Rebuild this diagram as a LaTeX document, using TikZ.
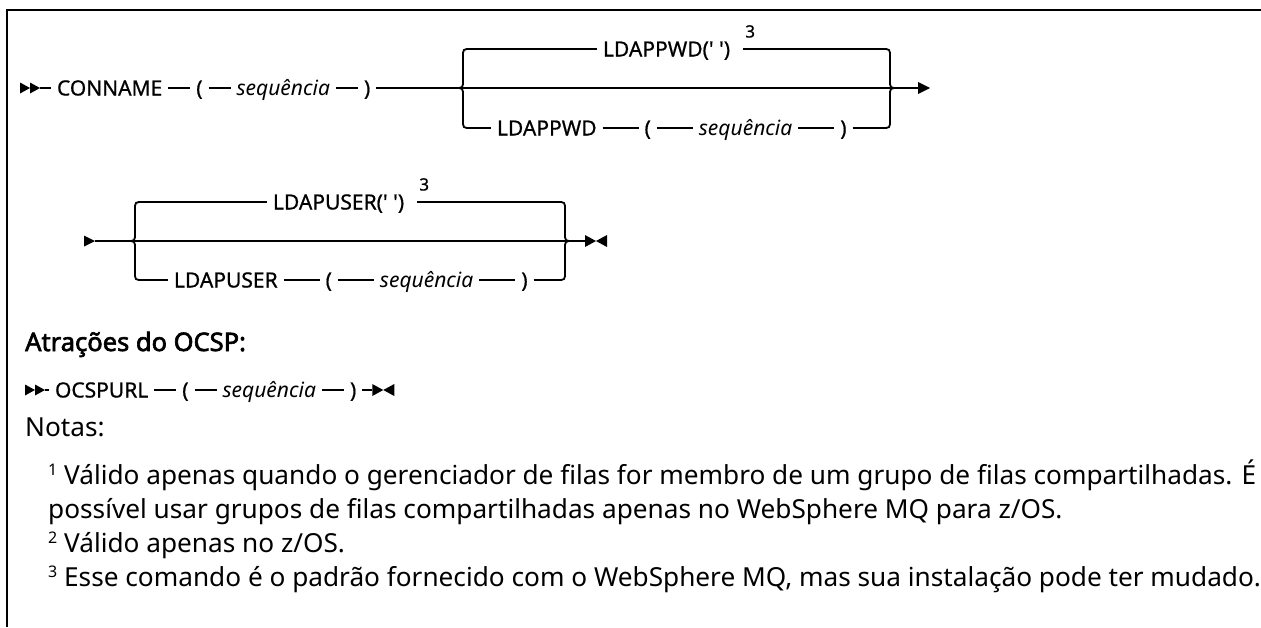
\documentclass[tikz,border=0pt]{standalone}
\usepackage{fontspec}
\setmainfont{Noto Sans}
\newfontfamily\headfont{Noto Sans}[FakeBold=2.5]
\newfontfamily\diagfont{Noto Sans}[FakeBold=0.7]
\usetikzlibrary{positioning}
\newcommand\sqt{\XeTeXglyph\XeTeXcharglyph"27\relax}
\newcommand\nsup[1]{\raisebox{8.5pt}{\fontsize{16}{16}\selectfont #1}}
\tikzset{
  track/.style={line width=1.8pt},
  tok/.style={anchor=west, inner xsep=6pt, inner ysep=0pt, outer sep=0pt,
    text height=15pt, text depth=0pt, font=\diagfont\fontsize{21}{25}\selectfont},
  vartok/.style={tok, font=\fontsize{21}{25}\selectfont\itshape},
  supnum/.style={anchor=base west, inner sep=0pt, font=\diagfont\fontsize{17}{18}\selectfont},
  heading/.style={anchor=base west, inner sep=0pt, font=\headfont\fontsize{25.5}{30}\selectfont},
  plaintext/.style={anchor=base west, inner sep=0pt, font=\fontsize{26.2}{30}\selectfont},
  frameline/.style={line width=2.5pt},
}
\begin{document}
\begin{tikzpicture}[x=1pt,y=-1pt]
\useasboundingbox (0,0) rectangle (1261,627);
\fill[white] (0,0) rectangle (1261,627);
\draw[frameline] (7,627) -- (7,10) -- (1261,10);

% ---------- line 1 ----------
\fill (20,82.5) -- (30,88) -- (20,93.5) -- cycle;
\fill (30,82.5) -- (40,88) -- (30,93.5) -- cycle;
\coordinate (a1) at (40,88);
\coordinate (e1) at (918,88);
\node[tok] (conname) at (51,88) {CONNAME};
\node[tok, right=22pt of conname] (lpa) {(};
\node[vartok, right=22pt of lpa] (seqa) {sequência};
\node[tok, right=22pt of seqa] (rpa) {)};
\draw[track] (a1) -- (conname.west) (conname.east) -- (lpa.west)
  (lpa.east) -- (seqa.west) (seqa.east) -- (rpa.west) (rpa.east) -- (e1);
\fill (918,82) -- (930,88) -- (918,94) -- cycle;

\coordinate (bu1) at (471,49);
\coordinate (bl1) at (471,128);
\coordinate (cu1) at (882,49);
\coordinate (cl1) at (882,128);
\draw[track] (bu1) .. controls (463,49) .. (463,57) -- (463,80)
  .. controls (463,88) .. (455,88) .. controls (463,88) .. (463,96)
  -- (463,120) .. controls (463,128) .. (bl1);
\draw[track] (cu1) .. controls (890,49) .. (890,57) -- (890,80)
  .. controls (890,88) .. (898,88) .. controls (890,88) .. (890,96)
  -- (890,120) .. controls (890,128) .. (cl1);

\node[tok] (pwdd) at (597,49) {LDAPPWD(\sqt\ \sqt)};
\node[supnum] (ta) at ([shift={(9,-4)}]pwdd.north east) {3};
\draw[track] (bu1) -- (pwdd.west) ([xshift=-2pt]ta.west |- pwdd.east) -- (cu1);

\node[tok] (pwdk) at (491,128) {LDAPPWD};
\node[tok, right=36pt of pwdk] (lpb) {(};
\node[vartok, right=36pt of lpb] (seqb) {sequência};
\node[tok, right=36pt of seqb] (rpb) {)};
\draw[track] (bl1) -- (pwdk.west) (pwdk.east) -- (lpb.west)
  (lpb.east) -- (seqb.west) (seqb.east) -- (rpb.west) (rpb.east) -- (cl1);

% ---------- line 2 ----------
\fill (84,235.5) -- (95,241) -- (84,246.5) -- cycle;
\coordinate (b1) at (95,241);
\coordinate (e2) at (585,241);
\draw[track] (b1) -- (e2);
\fill (585,235) -- (596,241) -- (585,247) -- cycle;
\fill (607,235) -- (596,241) -- (607,247) -- cycle;

\coordinate (bu2) at (143,202);
\coordinate (bl2) at (143,280);
\coordinate (cu2) at (557,202);
\coordinate (cl2) at (557,280);
\draw[track] (bu2) .. controls (135,202) .. (135,210) -- (135,233)
  .. controls (135,241) .. (127,241) .. controls (135,241) .. (135,249)
  -- (135,272) .. controls (135,280) .. (bl2);
\draw[track] (cu2) .. controls (565,202) .. (565,210) -- (565,233)
  .. controls (565,241) .. (573,241) .. controls (565,241) .. (565,249)
  -- (565,272) .. controls (565,280) .. (cl2);

\node[tok] (usrd) at (267,202) {LDAPUSER(\sqt\ \sqt)};
\node[supnum] (tb) at ([shift={(9,-4)}]usrd.north east) {3};
\draw[track] (bu2) -- (usrd.west) ([xshift=-2pt]tb.west |- usrd.east) -- (cu2);

\node[tok] (usrk) at (168,280) {LDAPUSER};
\node[tok, right=36pt of usrk] (lpc) {(};
\node[vartok, right=36pt of lpc] (seqc) {sequência};
\node[tok, right=36pt of seqc] (rpc) {)};
\draw[track] (bl2) -- (usrk.west) (usrk.east) -- (lpc.west)
  (lpc.east) -- (seqc.west) (seqc.east) -- (rpc.west) (rpc.east) -- (cl2);

% ---------- OCSP ----------
\node[heading] (atr) at (25,351) {Atrações do OCSP:};
\fill (25,384.5) -- (35,390) -- (25,395.5) -- cycle;
\fill (35,384.5) -- (45,390) -- (35,395.5) -- cycle;
\coordinate (d1) at (45,390);
\node[tok] (ocsp) at (49,390) {OCSPURL};
\node[tok, right=22pt of ocsp] (lpd) {(};
\node[vartok, right=22pt of lpd] (seqd) {sequência};
\node[tok, right=22pt of seqd] (rpd) {)};
\coordinate (ed) at ([xshift=10pt]rpd.east);
\draw[track] (d1) -- (ocsp.west) (ocsp.east) -- (lpd.west)
  (lpd.east) -- (seqd.west) (seqd.east) -- (rpd.west) (rpd.east) -- (ed);
\fill ([shift={(0,-6)}]ed) -- ([shift={(11,0)}]ed) -- ([shift={(0,6)}]ed) -- cycle;
\fill ([shift={(22,-6)}]ed) -- ([shift={(11,0)}]ed) -- ([shift={(22,6)}]ed) -- cycle;

% ---------- notes ----------
\node[plaintext] (notas) at (25,436) {Notas:};
\node[plaintext] (n1) at (48,484) {\nsup{1} Válido apenas quando o gerenciador de filas for membro de um grupo de filas compartilhadas. É};
\node[plaintext] (n1b) at (48,518) {possível usar grupos de filas compartilhadas apenas no WebSphere MQ para z/OS.};
\node[plaintext] (n2) at (48,552) {\nsup{2} Válido apenas no z/OS.};
\node[plaintext] (n3) at (48,586) {\nsup{3} Esse comando é o padrão fornecido com o WebSphere MQ, mas sua instalação pode ter mudado.};
\end{tikzpicture}
\end{document}
